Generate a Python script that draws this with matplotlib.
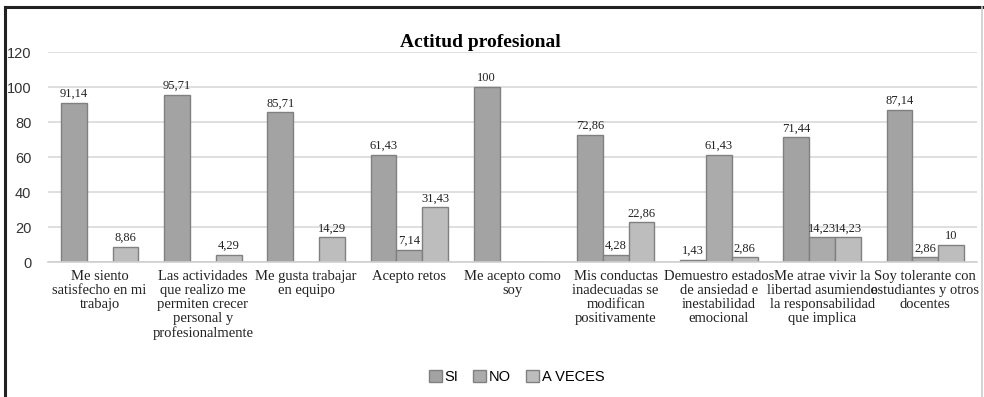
import numpy as np
import matplotlib.pyplot as plt
from matplotlib.lines import Line2D

categorias = [
    "Me siento\nsatisfecho en mi\ntrabajo",
    "Las actividades\nque realizo me\npermiten crecer\npersonal y\nprofesionalmente",
    "Me gusta trabajar\nen equipo",
    "Acepto retos",
    "Me acepto como\nsoy",
    "Mis conductas\ninadecuadas se\nmodifican\npositivamente",
    "Demuestro estados\nde ansiedad e\ninestabilidad\nemocional",
    "Me atrae vivir la\nlibertad asumiendo\nla responsabilidad\nque implica",
    "Soy tolerante con\nestudiantes y otros\ndocentes",
]
si = [91.14, 95.71, 85.71, 61.43, 100, 72.86, 1.43, 71.44, 87.14]
no = [None, None, None, 7.14, None, 4.28, 61.43, 14.23, 2.86]
a_veces = [8.86, 4.29, 14.29, 31.43, None, 22.86, 2.86, 14.23, 10]

series = [("SI", si, "#a3a3a3"), ("NO", no, "#ababab"), ("A VECES", a_veces, "#bdbdbd")]

fig = plt.figure(figsize=(9.84, 3.97), dpi=100)
ax = fig.add_axes([0.0488, 0.340, 0.944, 0.529])

x = np.arange(len(categorias))
w = 0.25
for i, (nombre, vals, color) in enumerate(series):
    h = [v if v is not None else 0 for v in vals]
    bars = ax.bar(x + (i - 1) * w, h, w, color=color, edgecolor="#808080",
                  linewidth=1, label=nombre, zorder=2)
    for b, v in zip(bars, vals):
        if v is None:
            continue
        txt = f"{v:g}".replace(".", ",")
        ax.text(b.get_x() + b.get_width() / 2, v + 1.5, txt, ha="center", va="bottom",
                fontsize=9, family="Liberation Serif", color="#222222")

ax.set_xlim(-0.5, len(categorias) - 0.5)
ax.set_ylim(0, 120)
ax.set_yticks(range(0, 121, 20))
ax.yaxis.grid(True, color="#d9d9d9", linewidth=1.2, zorder=0)
ax.set_axisbelow(True)
for s in ["top", "right", "left"]:
    ax.spines[s].set_visible(False)
ax.spines["bottom"].set_color("#d0d0d0")
ax.spines["bottom"].set_linewidth(1.2)
ax.tick_params(axis="y", length=0, labelsize=10.5, pad=12)
ax.tick_params(axis="x", length=0, pad=6)
for lab in ax.get_yticklabels():
    lab.set_family("Liberation Sans")
    lab.set_color("#333333")
ax.set_xticks(x)
ax.set_xticklabels(categorias, fontsize=10.5, family="Liberation Serif",
                   color="#222222", linespacing=1.1)

fig.text(0.488, 0.893, "Actitud profesional", ha="center", va="center",
         fontsize=14, fontweight="bold", family="Liberation Serif")

fig.legend(loc="center", bbox_to_anchor=(0.525, 0.05), ncol=3, frameon=False,
           prop={"family": "Liberation Sans", "size": 10.5}, handlelength=0.9,
           handleheight=0.9, handletextpad=0.2, columnspacing=1.0)

# marco exterior
fig.add_artist(Line2D([0.0055, 0.0055], [0.0, 0.982], color="#222222", linewidth=2.2))
fig.add_artist(Line2D([0.0055, 0.999], [0.982, 0.982], color="#222222", linewidth=2.2))
fig.add_artist(Line2D([0.998, 0.998], [0.0, 0.982], color="#cccccc", linewidth=1.2))

fig.savefig("out.png", dpi=100)
